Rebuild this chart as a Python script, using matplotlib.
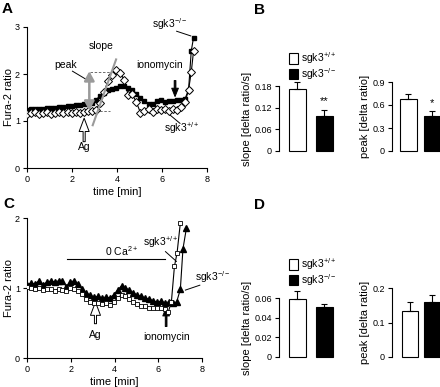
import numpy as np
import matplotlib
matplotlib.use("Agg")
import matplotlib.pyplot as plt

plt.rcParams['font.family'] = ['Liberation Sans', 'DejaVu Sans']
plt.rcParams['mathtext.fontset'] = 'custom'
plt.rcParams['mathtext.rm'] = 'Liberation Sans'
plt.rcParams['mathtext.default'] = 'regular'

# ---------------- data ----------------
# Panel A traces (time in min, Fura-2 ratio)
time_A = [0.00, 0.18, 0.36, 0.54, 0.72, 0.90, 1.08, 1.26, 1.44, 1.62, 1.80, 1.98,
          2.16, 2.34, 2.52, 2.70, 2.88, 3.06, 3.24, 3.42, 3.60, 3.78, 3.96, 4.14,
          4.32, 4.50, 4.68, 4.86, 5.04, 5.22, 5.40, 5.58, 5.76, 5.94, 6.12, 6.30,
          6.48, 6.66, 6.84, 7.02, 7.18, 7.30, 7.40]
A_ko = [1.24, 1.25, 1.25, 1.26, 1.26, 1.27, 1.27, 1.28, 1.29, 1.30, 1.31, 1.32,
        1.33, 1.35, 1.36, 1.37, 1.38, 1.45, 1.53, 1.60, 1.65, 1.69, 1.71, 1.74,
        1.75, 1.71, 1.66, 1.58, 1.50, 1.43, 1.37, 1.36, 1.42, 1.44, 1.41, 1.42,
        1.43, 1.44, 1.44, 1.47, 1.66, 2.49, 2.77]
A_wt = [1.14, 1.17, 1.19, 1.15, 1.17, 1.19, 1.15, 1.18, 1.19, 1.16, 1.19, 1.17,
        1.20, 1.18, 1.20, 1.21, 1.21, 1.24, 1.38, 1.62, 1.85, 1.98, 2.08, 2.02,
        1.88, 1.55, 1.57, 1.40, 1.18, 1.22, 1.25, 1.20, 1.26, 1.23, 1.26, 1.22,
        1.26, 1.24, 1.30, 1.40, 1.66, 2.04, 2.48]

# Panel C traces
time_C_ko = [0.00, 0.18, 0.36, 0.54, 0.72, 0.90, 1.08, 1.26, 1.44, 1.62, 1.80, 1.98,
             2.16, 2.34, 2.52, 2.70, 2.88, 3.06, 3.24, 3.42, 3.60, 3.78, 3.96, 4.14,
             4.32, 4.50, 4.68, 4.86, 5.04, 5.22, 5.40, 5.58, 5.76, 5.94, 6.12, 6.30,
             6.48, 6.66, 6.84, 7.01, 7.13, 7.29]
C_ko = [1.05, 1.07, 1.06, 1.10, 1.05, 1.08, 1.10, 1.09, 1.10, 1.10, 1.02, 1.09,
        1.10, 1.06, 0.98, 0.93, 0.90, 0.87, 0.88, 0.86, 0.87, 0.86, 0.90, 0.97,
        1.03, 1.00, 0.97, 0.93, 0.90, 0.88, 0.86, 0.84, 0.82, 0.80, 0.81, 0.79,
        0.80, 0.79, 0.80, 0.98, 1.56, 1.86]
time_C_wt = [0.00, 0.18, 0.36, 0.54, 0.72, 0.90, 1.08, 1.26, 1.44, 1.62, 1.80, 1.98,
             2.16, 2.34, 2.52, 2.70, 2.88, 3.06, 3.24, 3.42, 3.60, 3.78, 3.96, 4.14,
             4.32, 4.50, 4.68, 4.86, 5.04, 5.22, 5.40, 5.58, 5.76, 5.94, 6.12, 6.30,
             6.46, 6.60, 6.74, 6.86, 7.01]
C_wt = [1.02, 1.00, 0.98, 1.00, 0.97, 0.99, 0.98, 0.96, 0.99, 0.97, 0.96, 1.00,
        0.98, 0.96, 0.92, 0.85, 0.80, 0.78, 0.78, 0.77, 0.78, 0.76, 0.80, 0.86,
        0.90, 0.88, 0.84, 0.80, 0.77, 0.75, 0.74, 0.72, 0.72, 0.71, 0.71, 0.70,
        0.66, 0.80, 1.31, 1.50, 1.93]

groups = ['sgk3$^{+/+}$', 'sgk3$^{-/-}$']
# Panel B (mean, SEM)
B_slope = [0.172, 0.097]
B_slope_err = [0.020, 0.016]
B_peak = [0.676, 0.452]
B_peak_err = [0.066, 0.070]
# Panel D
D_slope = [0.059, 0.051]
D_slope_err = [0.008, 0.0034]
D_peak = [0.133, 0.158]
D_peak_err = [0.025, 0.021]

A_yticks = [0, 1, 2, 3]
C_yticks = [0, 1, 2]
time_ticks = [0, 2, 4, 6, 8]
B_slope_ticks = [0, 0.06, 0.12, 0.18]
B_slope_labels = ['0', '0.06', '0.12', '0.18']
B_peak_ticks = [0, 0.3, 0.6, 0.9]
B_peak_labels = ['0', '0.3', '0.6', '0.9']
D_slope_ticks = [0, 0.02, 0.04, 0.06]
D_slope_labels = ['0', '0.02', '0.04', '0.06']
D_peak_ticks = [0, 0.1, 0.2]
D_peak_labels = ['0', '0.1', '0.2']

# ---------------- layout ----------------
W, H = 440, 387
fig = plt.figure(figsize=(W / 100, H / 100), dpi=100)


def ax_px(left, right, top, bottom):
    return fig.add_axes([left / W, 1 - bottom / H, (right - left) / W, (bottom - top) / H])


TICK_FS = 6.5
LAB_FS = 8
TXT_FS = 7.5


def style(ax):
    for s in ['top', 'right']:
        ax.spines[s].set_visible(False)
    for s in ['left', 'bottom']:
        ax.spines[s].set_linewidth(0.8)
    ax.tick_params(direction='out', length=3, width=0.8, labelsize=TICK_FS, pad=2)


def arrow(ax, x, y0, y1, fc, hw, hl, tw):
    ax.annotate('', xy=(x, y1), xytext=(x, y0),
                arrowprops=dict(arrowstyle=f'simple,head_width={hw},head_length={hl},tail_width={tw}',
                                mutation_scale=6, fc=fc, ec='black', lw=0.7, shrinkA=0, shrinkB=0),
                annotation_clip=False)


def leader(ax, x0, y0, x1, y1):
    ax.plot([x0, x1], [y0, y1], color='black', lw=0.7, clip_on=False)


# ---- Panel A ----
axA = ax_px(27, 207, 27, 168)
style(axA)
axA.plot(time_A, A_ko, color='black', lw=0.8, marker='s', ms=3.3, mfc='black', mec='black', zorder=3)
axA.plot(time_A, A_wt, color='black', lw=0.8, marker='D', ms=3.8, mfc='white', mec='black', mew=0.7, zorder=4)
axA.set_xlim(0, 8)
axA.set_ylim(0, 3)
axA.set_xticks(time_ticks)
axA.set_yticks(A_yticks)
axA.set_xlabel('time [min]', fontsize=LAB_FS, labelpad=2)
axA.set_ylabel('Fura-2 ratio', fontsize=LAB_FS)
axA.yaxis.set_label_coords((14 - 27) / 180, 0.5)
# annotations
axA.plot([2.8, 4.05], [2.05, 2.05], color='#555555', lw=0.6, ls=(0, (3, 2)), zorder=2)
axA.plot([2.5, 3.7], [1.22, 1.22], color='#555555', lw=0.6, ls=(0, (3, 2)), zorder=2)
axA.annotate('', xy=(2.77, 2.06), xytext=(2.77, 1.22),
             arrowprops=dict(arrowstyle='<|-|>,head_width=0.3,head_length=0.55', color='#9a9a9a',
                             lw=1.8, shrinkA=0, shrinkB=0), zorder=5)
axA.plot([2.92, 3.96], [0.91, 2.31], color='#9a9a9a', lw=1.5, zorder=5)
axA.text(1.72, 2.2, 'peak', fontsize=TXT_FS, ha='center', va='center')
leader(axA, 2.02, 2.06, 2.65, 1.88)
axA.text(3.29, 2.59, 'slope', fontsize=TXT_FS, ha='center', va='center')
axA.text(5.9, 2.2, 'ionomycin', fontsize=TXT_FS, ha='center', va='center')
arrow(axA, 6.58, 1.86, 1.52, 'black', 0.8, 1.0, 0.2)
axA.text(6.35, 3.06, groups[1], fontsize=TXT_FS, ha='center', va='center')
leader(axA, 6.65, 2.91, 7.28, 2.81)
axA.text(6.88, 0.84, groups[0], fontsize=TXT_FS, ha='center', va='center')
leader(axA, 6.35, 1.13, 6.8, 0.95)
axA.text(2.54, 0.45, 'Ag', fontsize=TXT_FS, ha='center', va='center')
arrow(axA, 2.54, 0.56, 1.06, 'white', 1.2, 1.6, 0.25)

# ---- Panel C ----
axC = ax_px(27, 202, 218, 358)
style(axC)
axC.plot(time_C_ko, C_ko, color='black', lw=0.8, marker='^', ms=3.8, mfc='black', mec='black', zorder=3)
axC.plot(time_C_wt, C_wt, color='black', lw=0.8, marker='s', ms=3.3, mfc='white', mec='black', mew=0.6, zorder=4)
axC.set_xlim(0, 8)
axC.set_ylim(0, 2)
axC.set_xticks(time_ticks)
axC.set_yticks(C_yticks)
axC.set_xlabel('time [min]', fontsize=LAB_FS, labelpad=2)
axC.set_ylabel('Fura-2 ratio', fontsize=LAB_FS)
axC.yaxis.set_label_coords((14 - 27) / 175, 0.5)
axC.plot([1.83, 6.33], [1.42, 1.42], color='black', lw=0.8)
axC.text(4.34, 1.53, '0 Ca$^{2+}$', fontsize=TXT_FS, ha='center', va='center')
axC.text(3.13, 0.33, 'Ag', fontsize=TXT_FS, ha='center', va='center')
arrow(axC, 3.13, 0.49, 0.80, 'white', 1.2, 1.6, 0.25)
axC.text(6.4, 0.30, 'ionomycin', fontsize=TXT_FS, ha='center', va='center')
arrow(axC, 6.36, 0.45, 0.72, 'black', 0.8, 1.0, 0.2)
axC.text(6.13, 1.65, groups[0], fontsize=TXT_FS, ha='center', va='center')
leader(axC, 6.33, 1.52, 6.83, 1.38)
axC.text(7.7, 1.15, groups[1], fontsize=TXT_FS, ha='left', va='center')
leader(axC, 7.9, 1.04, 7.24, 0.97)


# ---- Bar panels ----
def bar_panel(left, top, bottom, vals, errs, ticks, labels, ylab, xpos, width, stars=None, star_y=None):
    ax = ax_px(left, left + 66, top, bottom)
    style(ax)
    ax.spines['bottom'].set_visible(False)
    ax.tick_params(axis='x', bottom=False, labelbottom=False)
    bars = ax.bar(xpos, vals, width=width, color=['white', 'black'], edgecolor='black', lw=0.8,
                  yerr=[[0, 0], errs], capsize=2.5,
                  error_kw=dict(ecolor='black', elinewidth=0.8, capthick=0.8, clip_on=False), clip_on=False)
    ax.set_xlim(0, 4)
    ax.set_ylim(ticks[0], ticks[-1])
    ax.set_yticks(ticks)
    ax.set_yticklabels(labels)
    ax.set_ylabel(ylab, fontsize=LAB_FS, labelpad=2)
    if stars:
        ax.text(xpos[1], star_y, stars, fontsize=8, ha='center', va='center')
    return ax, bars


axBs, barsB = bar_panel(279, 86, 151, B_slope, B_slope_err, B_slope_ticks, B_slope_labels,
                        'slope [delta ratio/s]', [1.12, 2.75], 1.0, '**', 0.137)
axBp, _ = bar_panel(392, 82, 151, B_peak, B_peak_err, B_peak_ticks, B_peak_labels,
                    'peak [delta ratio]', [0.99, 2.45], 1.05, '*', 0.62)
axDs, barsD = bar_panel(279, 298, 357, D_slope, D_slope_err, D_slope_ticks, D_slope_labels,
                        'slope [delta ratio/s]', [1.12, 2.75], 1.0)
axDp, _ = bar_panel(392, 288, 357, D_peak, D_peak_err, D_peak_ticks, D_peak_labels,
                    'peak [delta ratio]', [1.07, 2.45], 0.98)

for bars, ytop in [(barsB, 50), (barsD, 256)]:
    fig.legend(list(bars), groups, loc='upper left', bbox_to_anchor=(289 / W, 1 - ytop / H),
               frameon=False, fontsize=7.5, handlelength=0.9, handleheight=1.2,
               labelspacing=0.0, borderpad=0, borderaxespad=0, handletextpad=0.25)

# ---- Panel letters ----
for lab, x, y in [('A', 2, 2), ('B', 254, 3), ('C', 3, 197), ('D', 254, 198)]:
    fig.text(x / W, 1 - y / H, lab, fontsize=11, fontweight='bold', ha='left', va='top')

fig.savefig('out.png', dpi=100)
